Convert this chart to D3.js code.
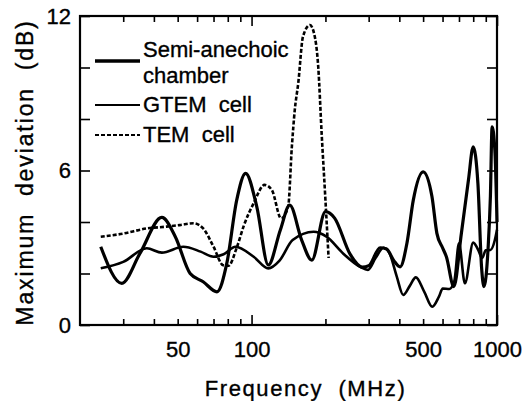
<!DOCTYPE html>
<html>
<head>
<meta charset="utf-8">
<script src="https://cdn.jsdelivr.net/npm/d3@7"></script>
<style>
  body { margin: 0; background: #fff; }
  svg text { font-family: "Liberation Sans", Arial, Helvetica, sans-serif; fill: #000; stroke: #000; stroke-width: 0.35px; }
  .axis path { display: none; }
  .axis line { stroke: #000; stroke-width: 1.6; }
</style>
</head>
<body>
<div id="chart"></div>
<script>
// values (frequency in MHz, deviation in dB)
const semiFreq = [24.3, 29.6, 35.1, 43.1, 48.9, 56.2, 63.5, 72.3, 79.3, 87, 94.6, 105, 117, 131, 143, 160, 176,
    200, 218, 252, 283, 300, 334, 355, 380, 403, 430, 456, 500, 543, 569, 600, 622, 667, 716, 765, 800, 836,
    865, 885, 920, 940, 955, 980, 1000];
const semiDev = [3.04, 1.62, 2.78, 4.18, 3.43, 2.0, 1.68, 1.29, 2.4, 4.85, 5.89, 4.6, 2.33, 3.69, 4.66, 3.3, 2.52,
    4.4, 4.15, 2.75, 2.25, 2.3, 3.0, 2.95, 2.5, 2.26, 3.2, 4.85, 5.95, 5.0, 3.56, 3.0, 2.65, 1.49, 3.56, 5.63, 6.92, 5.5,
    2.26, 1.49, 3.0, 5.0, 7.7, 6.8, 4.0];

const gtemFreq = [24.3, 30, 37.4, 43.1, 52.7, 62, 70, 77, 86, 102, 117, 130, 147, 179, 202, 236, 277, 298, 320,
    345, 365, 390, 415, 440, 467, 505, 545, 580, 601, 640, 670, 700, 740, 800, 840, 870, 900, 940, 980, 1000];
const gtemDev = [2.2, 2.45, 2.98, 2.81, 3.04, 2.85, 2.65, 2.75, 3.04, 2.65, 2.2, 2.5, 3.3, 3.62, 3.43, 2.78, 2.26,
    2.14, 2.6, 3.0, 2.78, 1.9, 1.17, 1.5, 1.85, 1.3, 0.71, 1.1, 1.42, 1.4, 1.7, 3.17, 1.62, 3.2, 2.9, 2.6, 2.9, 2.91,
    3.3, 3.7];

const temFreq = [24.3, 30, 37.4, 45, 51, 58, 63.5, 70, 76.6, 80.5, 87, 93, 102, 113, 121, 132, 141, 146, 150, 155,
    162, 173, 180, 187, 193, 200, 206];
const temDev = [3.43, 3.55, 3.75, 3.82, 3.88, 3.95, 3.75, 3.04, 2.32, 2.3, 3.0, 3.86, 4.73, 5.44, 5.24, 4.14, 4.6,
    6.95, 8.35, 9.4, 11.2, 11.65, 11.3, 10.0, 7.44, 4.85, 2.6];

const yTicks = [0, 2, 4, 6, 8, 10, 12];
const yLabels = [0, 6, 12];
const xMinor = [30, 40, 50, 60, 70, 80, 90, 200, 300, 400, 500, 600, 700, 800, 900];
const xMajor = [100, 1000];
const xLabels = [50, 100, 500, 1000];

const series = [
    { name: ["Semi-anechoic", "chamber"], freq: semiFreq, dev: semiDev, width: 3.2, dash: null },
    { name: ["GTEM  cell"], freq: gtemFreq, dev: gtemDev, width: 2.6, dash: null },
    { name: ["TEM  cell"], freq: temFreq, dev: temDev, width: 2.6, dash: "4,2" }
];

const width = 530, height = 401;
const margin = { left: 80, right: 33, top: 16, bottom: 76 };

const svg = d3.select("#chart").append("svg")
    .attr("width", width)
    .attr("height", height);

const x = d3.scaleLog()
    .domain([20, 1000])
    .range([margin.left, width - margin.right]);

const y = d3.scaleLinear()
    .domain([0, 12])
    .range([height - margin.bottom, margin.top]);

const plotW = width - margin.left - margin.right;
const plotH = height - margin.top - margin.bottom;

// tick marks, all pointing inwards
function ticks(axisFn, values, size, transform) {
    svg.append("g")
        .attr("class", "axis")
        .attr("transform", transform)
        .call(axisFn.tickValues(values).tickSize(size).tickFormat(""));
}
ticks(d3.axisBottom(x), xMinor, -6, `translate(0,${y(0)})`);
ticks(d3.axisBottom(x), xMajor, -10, `translate(0,${y(0)})`);
ticks(d3.axisTop(x), xMinor, -6, `translate(0,${y(12)})`);
ticks(d3.axisTop(x), xMajor, -10, `translate(0,${y(12)})`);
ticks(d3.axisLeft(y), yTicks, -10, `translate(${x(20)},0)`);
ticks(d3.axisRight(y), yTicks, -10, `translate(${x(1000)},0)`);

// tick labels
svg.append("g")
    .attr("class", "axis")
    .attr("transform", `translate(0,${y(0)})`)
    .call(d3.axisBottom(x).tickValues(xLabels).tickSize(0).tickPadding(16).tickFormat(d3.format("d")))
    .selectAll("text")
    .style("font-size", "22px");

svg.append("g")
    .attr("class", "axis")
    .attr("transform", `translate(${x(20)},0)`)
    .call(d3.axisLeft(y).tickValues(yLabels).tickSize(0).tickPadding(9).tickFormat(d3.format("d")))
    .selectAll("text")
    .style("font-size", "22px");

svg.selectAll(".axis text").attr("fill", "#000");

// frame
svg.append("rect")
    .attr("x", margin.left)
    .attr("y", margin.top)
    .attr("width", plotW)
    .attr("height", plotH)
    .attr("fill", "none")
    .attr("stroke", "#000")
    .attr("stroke-width", 2.2);

const line = d3.line()
    .x(d => x(d[0]))
    .y(d => y(d[1]))
    .curve(d3.curveMonotoneX);

series.forEach(s => {
    svg.append("path")
        .datum(s.freq.map((f, i) => [f, s.dev[i]]))
        .attr("fill", "none")
        .attr("stroke", "#000")
        .attr("stroke-width", s.width)
        .attr("stroke-linejoin", "round")
        .attr("stroke-dasharray", s.dash)
        .attr("d", line);
});

// legend
const legendLineY = [61, 105, 135];
const legendTextY = [57, 112, 142];
series.forEach((s, i) => {
    svg.append("line")
        .attr("x1", 95).attr("x2", 140)
        .attr("y1", legendLineY[i]).attr("y2", legendLineY[i])
        .attr("stroke", "#000")
        .attr("stroke-width", i === 0 ? 3.6 : 2)
        .attr("stroke-dasharray", s.dash);
    s.name.forEach((t, j) => {
        svg.append("text")
            .attr("x", 143)
            .attr("y", legendTextY[i] + j * 26)
            .style("font-size", "22px")
            .style("white-space", "pre")
            .text(t);
    });
});

// axis titles
svg.append("text")
    .attr("x", (x(20) + x(1000)) / 2 + 17)
    .attr("y", 396)
    .attr("text-anchor", "middle")
    .style("font-size", "22px")
    .style("letter-spacing", "1.6px")
    .style("white-space", "pre")
    .text("Frequency  (MHz)");

svg.append("text")
    .attr("transform", `translate(33,${(y(0) + y(12)) / 2 + 2}) rotate(-90)`)
    .attr("text-anchor", "middle")
    .style("font-size", "23px")
    .style("letter-spacing", "1.9px")
    .style("white-space", "pre")
    .text("Maximum  deviation  (dB)");
</script>
</body>
</html>
